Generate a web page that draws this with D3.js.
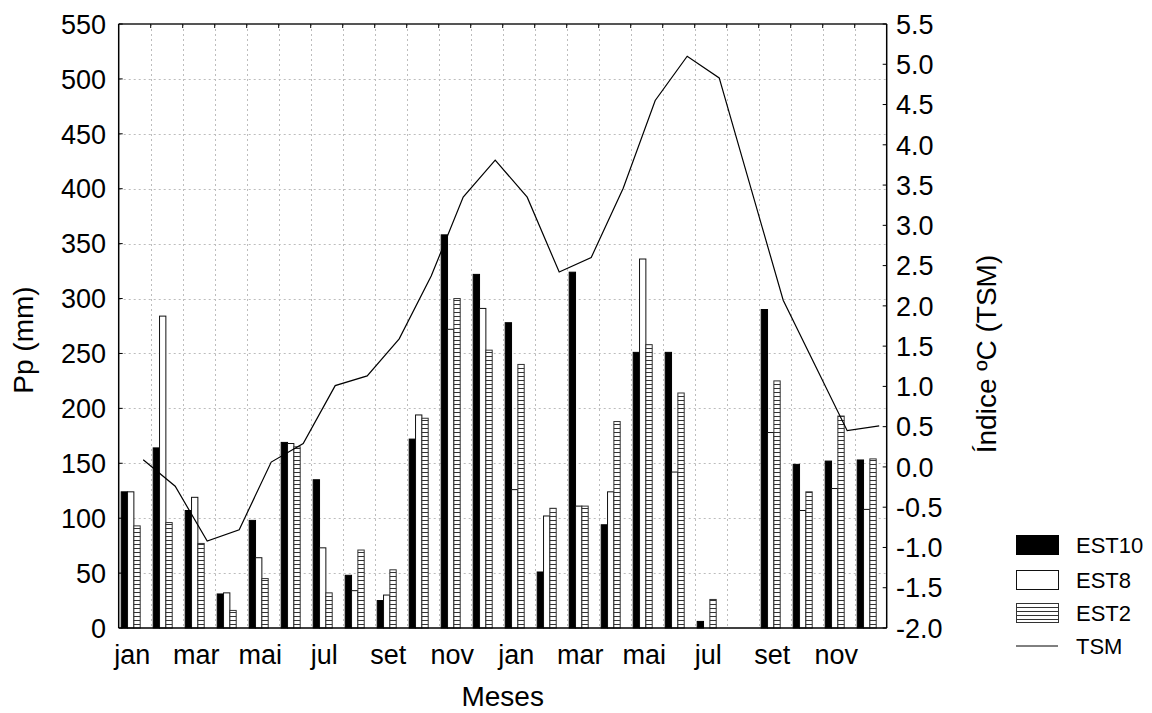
<!DOCTYPE html>
<html>
<head>
<meta charset="utf-8">
<style>
    body {
        margin: 0;
        background: #fff;
        font-family: "Liberation Sans", Arial, sans-serif;
    }
    svg {
        display: block;
    }
    .tick-label {
        font-size: 27px;
        fill: #000;
    }
    .axis-title {
        font-size: 28px;
        text-anchor: middle;
    }
    .legend-label {
        font-size: 22px;
    }
    .grid {
        stroke: #bdbdbd;
        stroke-width: 1;
        stroke-dasharray: 2,3;
    }
</style>
</head>
<body>
<script src="https://cdn.jsdelivr.net/npm/d3@7"></script>
<script>

    // two years of months, a label shown every other month
    var months = ["jan","fev","mar","abr","mai","jun","jul","ago","set","out","nov","dez",
                  "jan","fev","mar","abr","mai","jun","jul","ago","set","out","nov","dez"];

    var est10 = [124, 164, 107, 31, 98, 169, 135, 48, 25, 172, 358, 322,
                 278, 51, 324, 94, 251, 251, 6, 0, 290, 149, 152, 153];
    var est8  = [124, 284, 119, 32, 64, 168, 73, 34, 30, 194, 272, 291,
                 126, 102, 111, 124, 336, 142, 0, 0, 178, 107, 127, 108];
    var est2  = [93, 96, 77, 16, 45, 165, 32, 71, 53, 191, 300, 253,
                 240, 109, 111, 188, 258, 214, 26, 0, 225, 124, 193, 154];
    var tsm   = [0.09, -0.24, -0.92, -0.78, 0.06, 0.29, 1.01, 1.13, 1.59, 2.37, 3.35, 3.81,
                 3.35, 2.42, 2.60, 3.46, 4.55, 5.10, 4.83, 3.45, 2.07, 1.26, 0.45, 0.51];

    var seriesNames = ["EST10", "EST8", "EST2"];
    var leftTicks = d3.range(0, 551, 50);
    var rightTicks = d3.range(-2.0, 5.51, 0.5);

    var width = 1152,
        height = 713,
        plotLeft = 118.7,
        plotRight = 886.7,
        plotTop = 24,
        plotBottom = 628,
        tickLen = 4;

    var svg = d3.select("body").append("svg")
        .attr("width", width)
        .attr("height", height);

    // horizontal hatching for EST2
    var pat = svg.append("defs").append("pattern")
        .attr("id", "hatch")
        .attr("patternUnits", "userSpaceOnUse")
        .attr("width", 8)
        .attr("height", 4);
    pat.append("rect").attr("width", 8).attr("height", 4).attr("fill", "#fff");
    pat.append("line")
        .attr("x1", 0).attr("x2", 8)
        .attr("y1", 0.5).attr("y2", 0.5)
        .attr("stroke", "#333").attr("stroke-width", 1);

    var x = d3.scaleBand()
        .domain(d3.range(months.length))
        .range([plotLeft, plotRight])
        .padding(0);

    var xs = d3.scaleBand()
        .domain(seriesNames)
        .range([2.5, 21.5])
        .padding(0);

    var yL = d3.scaleLinear().domain([0, 550]).range([plotBottom, plotTop]);
    var yR = d3.scaleLinear().domain([-2.0, 5.5]).range([plotBottom, plotTop]);

    // grid
    svg.append("g").selectAll("line")
        .data(leftTicks.filter(function(d) {return d > 0 && d < 550}))
      .enter().append("line")
        .attr("class", "grid")
        .attr("x1", plotLeft).attr("x2", plotRight)
        .attr("y1", function(d) {return Math.round(yL(d)) + 0.5})
        .attr("y2", function(d) {return Math.round(yL(d)) + 0.5});

    svg.append("g").selectAll("line")
        .data(d3.range(1, months.length))
      .enter().append("line")
        .attr("class", "grid")
        .attr("x1", function(d) {return Math.round(x(d)) + 0.5})
        .attr("x2", function(d) {return Math.round(x(d)) + 0.5})
        .attr("y1", plotTop).attr("y2", plotBottom);

    // bars
    var barData = [];
    months.forEach(function(m, i) {
        barData.push({i: i, s: "EST10", v: est10[i]});
        barData.push({i: i, s: "EST8", v: est8[i]});
        barData.push({i: i, s: "EST2", v: est2[i]});
    });

    var fills = {EST10: "#000", EST8: "#fff", EST2: "url(#hatch)"};
    var strokes = {EST10: "#000", EST8: "#111", EST2: "#333"};

    svg.append("g").selectAll("rect")
        .data(barData)
      .enter().append("rect")
        .attr("x", function(d) {return x(d.i) + xs(d.s)})
        .attr("y", function(d) {return yL(d.v)})
        .attr("width", xs.bandwidth())
        .attr("height", function(d) {return plotBottom - yL(d.v)})
        .attr("fill", function(d) {return fills[d.s]})
        .attr("stroke", function(d) {return strokes[d.s]})
        .attr("stroke-width", 1);

    // TSM line
    var line = d3.line()
        .x(function(d, i) {return x(i) + 24.5})
        .y(function(d) {return yR(d)});

    svg.append("path")
        .datum(tsm)
        .attr("d", line)
        .attr("fill", "none")
        .attr("stroke", "#000")
        .attr("stroke-width", 1.2);

    // frame
    svg.append("line").attr("x1", plotLeft).attr("x2", plotRight).attr("y1", plotTop).attr("y2", plotTop)
        .attr("stroke", "#555").attr("stroke-width", 2);
    svg.append("line").attr("x1", plotLeft).attr("x2", plotRight).attr("y1", plotBottom).attr("y2", plotBottom)
        .attr("stroke", "#000").attr("stroke-width", 1.5);
    svg.append("line").attr("x1", plotLeft).attr("x2", plotLeft).attr("y1", plotTop).attr("y2", plotBottom)
        .attr("stroke", "#000").attr("stroke-width", 1.5);
    svg.append("line").attr("x1", plotRight).attr("x2", plotRight).attr("y1", plotTop).attr("y2", plotBottom)
        .attr("stroke", "#000").attr("stroke-width", 1.5);

    // left axis
    var gL = svg.append("g");
    gL.selectAll("line")
        .data(leftTicks)
      .enter().append("line")
        .attr("x1", plotLeft).attr("x2", plotLeft + tickLen)
        .attr("y1", function(d) {return yL(d)})
        .attr("y2", function(d) {return yL(d)})
        .attr("stroke", "#000");
    gL.selectAll("text")
        .data(leftTicks)
      .enter().append("text")
        .attr("class", "tick-label")
        .attr("x", 106)
        .attr("y", function(d) {return yL(d)})
        .attr("dy", "0.36em")
        .attr("text-anchor", "end")
        .text(function(d) {return d});

    // right axis
    var gR = svg.append("g");
    gR.selectAll("line")
        .data(rightTicks)
      .enter().append("line")
        .attr("x1", plotRight).attr("x2", plotRight - tickLen)
        .attr("y1", function(d) {return yR(d)})
        .attr("y2", function(d) {return yR(d)})
        .attr("stroke", "#000");
    gR.selectAll("text")
        .data(rightTicks)
      .enter().append("text")
        .attr("class", "tick-label")
        .attr("x", 896)
        .attr("y", function(d) {return yR(d)})
        .attr("dy", "0.36em")
        .text(function(d) {return d3.format(".1f")(d).replace("−", "-")});

    // top ticks
    svg.append("g").selectAll("line")
        .data(d3.range(1, months.length))
      .enter().append("line")
        .attr("x1", function(d) {return x(d)})
        .attr("x2", function(d) {return x(d)})
        .attr("y1", plotTop).attr("y2", plotTop + tickLen)
        .attr("stroke", "#000");

    // month labels, every other month
    svg.append("g").selectAll("text")
        .data(d3.range(0, months.length, 2))
      .enter().append("text")
        .attr("class", "tick-label")
        .attr("x", function(d) {return x(d) + 13.5})
        .attr("y", 664)
        .attr("text-anchor", "middle")
        .text(function(d) {return months[d]});

    // titles
    svg.append("text")
        .attr("class", "axis-title")
        .attr("x", (plotLeft + plotRight) / 2)
        .attr("y", 706)
        .text("Meses");

    svg.append("text")
        .attr("class", "axis-title")
        .attr("transform", "translate(33,340) rotate(-90)")
        .text("Pp (mm)");

    svg.append("text")
        .attr("class", "axis-title")
        .attr("transform", "translate(996,354) rotate(-90)")
        .text("Índice ºC (TSM)");

    // legend
    var legend = svg.append("g").attr("transform", "translate(1016,535)");
    var legendItems = ["EST10", "EST8", "EST2", "TSM"];
    var rowY = [0, 35, 68, 101];

    legend.selectAll("rect")
        .data(seriesNames)
      .enter().append("rect")
        .attr("x", 0.5)
        .attr("y", function(d, i) {return rowY[i] + 0.5})
        .attr("width", 42)
        .attr("height", 19)
        .attr("fill", function(d) {return fills[d]})
        .attr("stroke", function(d) {return strokes[d]});

    legend.append("line")
        .attr("x1", 0).attr("x2", 42)
        .attr("y1", rowY[3] + 10).attr("y2", rowY[3] + 10)
        .attr("stroke", "#000");

    legend.selectAll("text")
        .data(legendItems)
      .enter().append("text")
        .attr("class", "legend-label")
        .attr("x", 60)
        .attr("y", function(d, i) {return rowY[i] + 10})
        .attr("dy", "0.36em")
        .text(function(d) {return d});
</script>
</body>
</html>
